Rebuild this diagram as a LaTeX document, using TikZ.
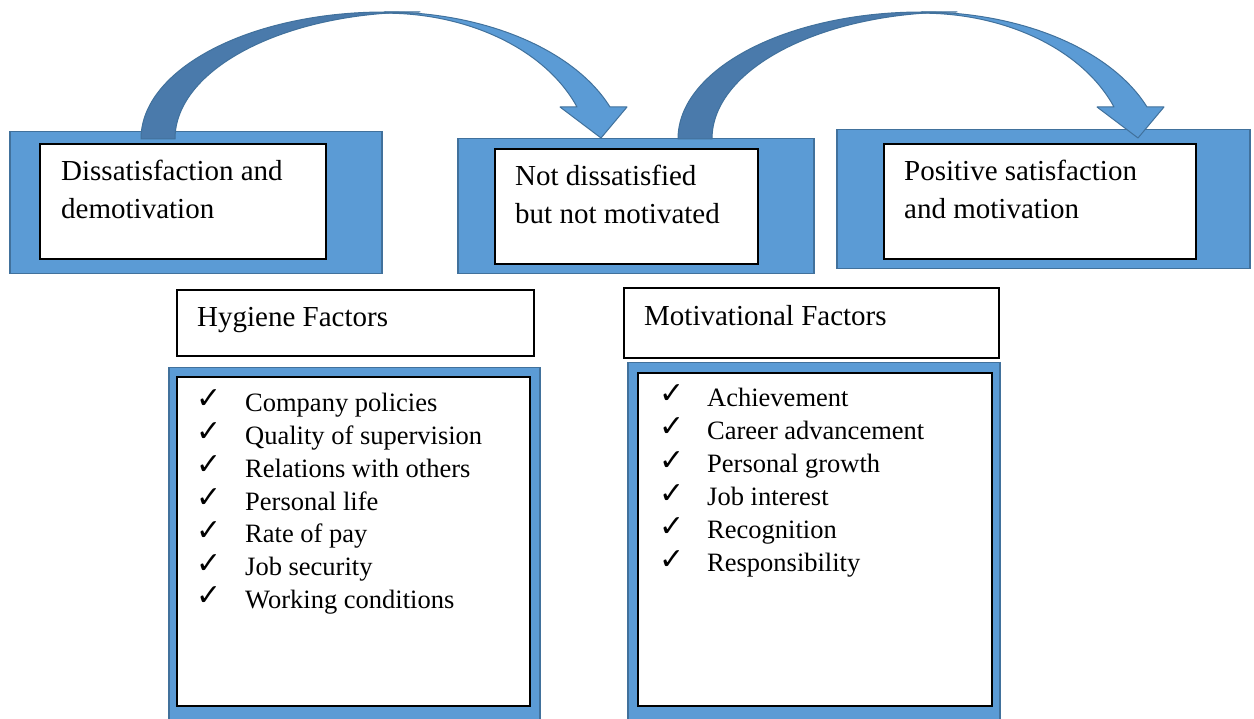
\documentclass[tikz,border=0pt]{standalone}
\usepackage{fontspec}
\setmainfont{Liberation Serif}
\newfontfamily\tickfont{DejaVu Sans}
\definecolor{officeblue}{HTML}{5B9BD5}
\definecolor{officeline}{HTML}{41719C}
\definecolor{officedark}{HTML}{4A7AAB}
\tikzset{
	bluebox/.style={draw=officeline, line width=1.5pt, fill=officeblue, anchor=north west, inner sep=0pt},
	whitebox/.style={draw=black, line width=1.8pt, fill=white, anchor=north west, inner sep=0pt},
	headtext/.style={anchor=base west, inner sep=0pt, align=left, font=\fontsize{29}{38}\selectfont},
	itemtext/.style={anchor=base west, inner sep=0pt, font=\fontsize{26.5}{33}\selectfont},
	ticktext/.style={anchor=base west, inner sep=0pt, font=\tickfont\fontsize{30}{33}\selectfont},
	bentarrow/.style={draw=officeline, line width=1pt, line join=round}
}

\begin{document}
\begin{tikzpicture}[x=1pt,y=-1pt]
	\useasboundingbox (0,0) rectangle (1254,719);
	\clip (0,0) rectangle (1254,719);

	% the three states
	\node[bluebox, minimum width=372, minimum height=142] (dis) at (9,131) {};
	\node[whitebox, minimum width=286, minimum height=115] (disin) at (39,143) {};
	\node[bluebox, minimum width=356, minimum height=135] (neutral) at (457,138) {};
	\node[whitebox, minimum width=263, minimum height=115] (neutralin) at (494,148) {};
	\node[bluebox, minimum width=413, minimum height=139] (pos) at (836,129) {};
	\node[whitebox, minimum width=312, minimum height=115] (posin) at (883,143) {};

	% bent arrows between the states
	\foreach \cx in {385,922}{
		\begin{scope}[shift={(\cx,139)}]
			\filldraw[bentarrow, fill=officedark] (-244,0) arc[start angle=180, end angle=270, x radius=244, y radius=127]
				-- (35,-127) arc[start angle=270, end angle=180, x radius=245, y radius=127] -- cycle;
			\filldraw[bentarrow, fill=officeblue] (0,-127) arc[start angle=270, end angle=339, x radius=241, y radius=148]
				-- (242,-32) -- (216,-1) -- (175,-32) -- (192,-32)
				arc[start angle=338.8, end angle=270, x radius=205.8, y radius=147] -- cycle;
		\end{scope}
	}

	\node[headtext] (distxt) at (61,219) {Dissatisfaction and\\demotivation};
	\node[headtext] (neutraltxt) at (515,224) {Not dissatisfied\\but not motivated};
	\node[headtext] (postxt) at (904,219) {Positive satisfaction\\and motivation};

	% factor lists
	\node[whitebox, minimum width=357, minimum height=66] (hyg) at (176,289) {};
	\node[headtext] (hygtxt) at (197,327) {Hygiene Factors};
	\node[bluebox, minimum width=371, minimum height=380] (hyglist) at (168,367) {};
	\node[whitebox, minimum width=353, minimum height=329] (hyglistin) at (176,376) {};

	\node[whitebox, minimum width=375, minimum height=70] (mot) at (623,287) {};
	\node[headtext] (mottxt) at (644,326) {Motivational Factors};
	\node[bluebox, minimum width=372, minimum height=380] (motlist) at (627,362) {};
	\node[whitebox, minimum width=354, minimum height=333] (motlistin) at (637,372) {};

	\foreach \txt [count=\i from 0] in {Company policies, Quality of supervision, Relations with others,
		Personal life, Rate of pay, Job security, Working conditions}{
		\node[ticktext] (hygck\i) at (196,{409+32.8*\i}) {✓};
		\node[itemtext] (hygitem\i) at (245,{411.7+32.8*\i}) {\txt};
	}
	\foreach \txt [count=\i from 0] in {Achievement, Career advancement, Personal growth,
		Job interest, Recognition, Responsibility}{
		\node[ticktext] (motck\i) at (659,{404+33*\i}) {✓};
		\node[itemtext] (motitem\i) at (707,{406.7+33*\i}) {\txt};
	}
\end{tikzpicture}
\end{document}
